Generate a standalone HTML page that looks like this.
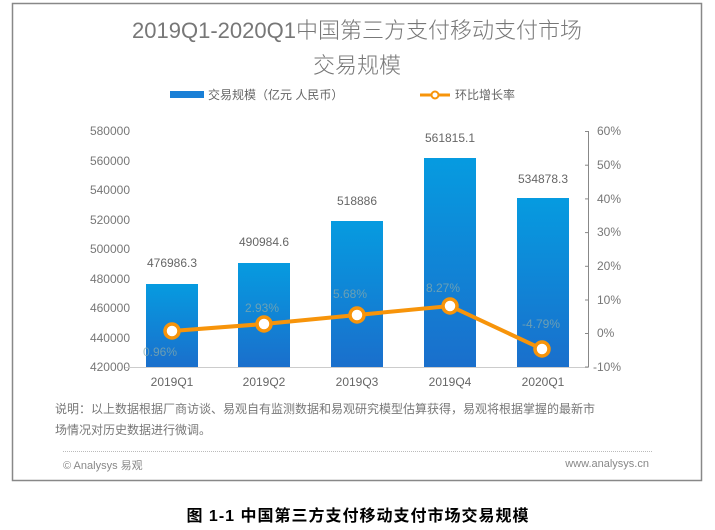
<!DOCTYPE html>
<html><head><meta charset="utf-8"><style>
body{margin:0;background:#fff;width:715px;height:530px;overflow:hidden}
svg{display:block}
text{font-family:"Liberation Sans","Noto Sans CJK SC",sans-serif}
</style></head><body>
<svg width="715" height="530" xmlns="http://www.w3.org/2000/svg">
<defs><linearGradient id="g" x1="0" y1="0" x2="0" y2="1"><stop offset="0" stop-color="#069be0"/><stop offset="1" stop-color="#1a6fcc"/></linearGradient></defs>
<rect x="12.5" y="3.5" width="689" height="477" fill="#fff" stroke="#888" stroke-width="1.5"/>
<text x="357" y="38" font-size="22" fill="#777" font-weight="300" text-anchor="middle">2019Q1-2020Q1中国第三方支付移动支付市场</text>
<text x="357" y="73" font-size="22" fill="#777" font-weight="300" text-anchor="middle">交易规模</text>
<rect x="170" y="91" width="34" height="7" fill="#1a7fd6"/>
<text x="208" y="99" font-size="12" fill="#666">交易规模（亿元 人民币）</text>
<line x1="420" y1="95" x2="450" y2="95" stroke="#f7940a" stroke-width="3"/>
<circle cx="435" cy="95" r="3.5" fill="#fff" stroke="#f7940a" stroke-width="2"/>
<text x="455" y="99" font-size="12" fill="#666">环比增长率</text>
<g font-size="12" fill="#777" text-anchor="end">
<text x="130" y="135">580000</text><text x="130" y="165">560000</text><text x="130" y="194">540000</text><text x="130" y="224">520000</text><text x="130" y="253">500000</text><text x="130" y="283">480000</text><text x="130" y="312">460000</text><text x="130" y="342">440000</text><text x="130" y="371">420000</text>
</g>
<line x1="125" y1="367.5" x2="588" y2="367.5" stroke="#ccc"/>
<g stroke="#888"><line x1="588.5" y1="131" x2="588.5" y2="367"/>
<line x1="585" y1="131.5" x2="589" y2="131.5"/><line x1="585" y1="165.2" x2="589" y2="165.2"/><line x1="585" y1="198.9" x2="589" y2="198.9"/><line x1="585" y1="232.6" x2="589" y2="232.6"/><line x1="585" y1="266.3" x2="589" y2="266.3"/><line x1="585" y1="300" x2="589" y2="300"/><line x1="585" y1="333.5" x2="589" y2="333.5"/><line x1="585" y1="367" x2="589" y2="367"/></g>
<g font-size="12" fill="#777">
<text x="597" y="135">60%</text><text x="597" y="169">50%</text><text x="597" y="203">40%</text><text x="597" y="236">30%</text><text x="597" y="270">20%</text><text x="597" y="304">10%</text><text x="597" y="337">0%</text><text x="593" y="371">-10%</text>
</g>
<g fill="url(#g)">
<rect x="146" y="284" width="52" height="83"/><rect x="238" y="263" width="52" height="104"/><rect x="331" y="221" width="52" height="146"/><rect x="424" y="158" width="52" height="209"/><rect x="517" y="198" width="52" height="169"/>
</g>
<g font-size="12" fill="#666" text-anchor="middle">
<text x="172" y="267">476986.3</text><text x="264" y="246">490984.6</text><text x="357" y="205">518886</text><text x="450" y="142">561815.1</text><text x="543" y="183">534878.3</text>
<text x="172" y="386">2019Q1</text><text x="264" y="386">2019Q2</text><text x="357" y="386">2019Q3</text><text x="450" y="386">2019Q4</text><text x="543" y="386">2020Q1</text>
</g>
<polyline points="172,331 264,324 357,315 450,306 542,349" fill="none" stroke="#f7940a" stroke-width="4"/>
<g fill="#fff" stroke="#f7940a" stroke-width="3.5">
<circle cx="172" cy="331" r="7"/><circle cx="264" cy="324" r="7"/><circle cx="357" cy="315" r="7"/><circle cx="450" cy="306" r="7"/><circle cx="542" cy="349" r="7"/></g>
<g font-size="12" fill="#8aa" text-anchor="middle" opacity="0.75">
<text x="160" y="356">0.96%</text><text x="262" y="312">2.93%</text><text x="350" y="298">5.68%</text><text x="443" y="292">8.27%</text><text x="541" y="328">-4.79%</text>
</g>
<text x="55" y="413" font-size="12" fill="#777">说明：以上数据根据厂商访谈、易观自有监测数据和易观研究模型估算获得，易观将根据掌握的最新市</text>
<text x="55" y="434" font-size="12" fill="#777">场情况对历史数据进行微调。</text>
<line x1="63" y1="451.5" x2="653" y2="451.5" stroke="#bbb" stroke-dasharray="1,1"/>
<text x="63" y="469" font-size="11" fill="#888">© Analysys 易观</text>
<text x="649" y="467" font-size="11" fill="#888" text-anchor="end">www.analysys.cn</text>
<text x="358" y="521" font-size="16" font-weight="bold" fill="#000" text-anchor="middle" letter-spacing="1" font-family="Liberation Serif,'Noto Serif CJK SC',serif">图 1-1  中国第三方支付移动支付市场交易规模</text>
</svg>
</body></html>
